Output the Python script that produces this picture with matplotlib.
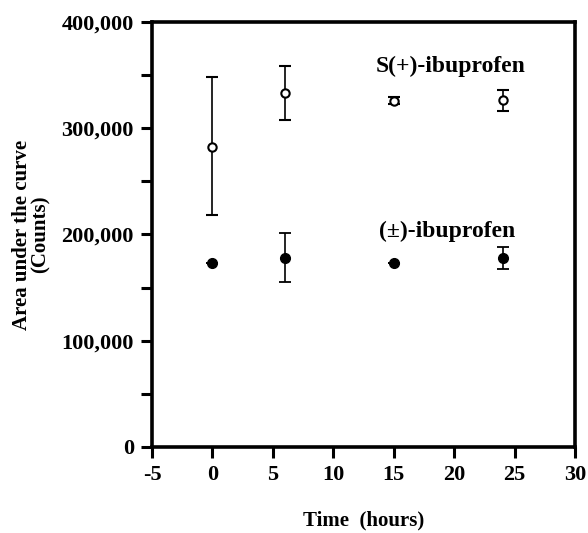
import matplotlib
matplotlib.use("Agg")
from matplotlib import pyplot as plt
from matplotlib.ticker import FuncFormatter, MultipleLocator

# sampling times (hours)
times = [0, 6, 15, 24]

# S(+)-ibuprofen: AUC and error bar ends
s_auc = [282600, 333000, 326000, 327000]
s_err_hi = [348000, 359000, 329000, 336000]
s_err_lo = [218000, 308000, 323000, 316500]

# racemic (+/-)-ibuprofen
r_auc = [173000, 178000, 173000, 178000]
r_err_hi = [173000, 201000, 173000, 188500]
r_err_lo = [173000, 155000, 173000, 167500]

x_ticks = [-5, 0, 5, 10, 15, 20, 25, 30]
y_ticks = [0, 100000, 200000, 300000, 400000]

FONT = "Liberation Serif"
plt.rcParams["axes.unicode_minus"] = False

fig = plt.figure(figsize=(5.88, 5.33), dpi=100)
ax = fig.add_axes([0.2585, 0.1614, 0.7195, 0.7973])


def errs(mid, lo, hi):
    return [[m - l for m, l in zip(mid, lo)], [h - m for m, h in zip(mid, hi)]]


ax.errorbar(times, s_auc, yerr=errs(s_auc, s_err_lo, s_err_hi), fmt="o",
            mfc="white", mec="black", mew=1.5, ms=6, color="black",
            ecolor="black", elinewidth=1.2, capsize=4, capthick=1.3)
ax.errorbar(times, r_auc, yerr=errs(r_auc, r_err_lo, r_err_hi), fmt="o",
            mfc="black", mec="black", ms=7, color="black",
            ecolor="black", elinewidth=1.2, capsize=4, capthick=1.3)

ax.set_xlim(-5, 30)
ax.set_ylim(0, 400000)
ax.set_xticks(x_ticks)
ax.set_yticks(y_ticks)
ax.yaxis.set_minor_locator(MultipleLocator(50000))
ax.yaxis.set_major_formatter(FuncFormatter(lambda v, p: f"{int(v):,}"))
ax.xaxis.set_major_formatter(FuncFormatter(lambda v, p: f"{int(v)}"))

for s in ax.spines.values():
    s.set_linewidth(2.6)

ax.tick_params(axis="both", which="both", direction="out", length=8, width=2.2,
               pad=5)
ax.tick_params(axis="x", which="minor", bottom=False)
for lab in ax.get_xticklabels() + ax.get_yticklabels():
    lab.set_fontfamily(FONT)
    lab.set_fontweight("bold")
    lab.set_fontsize(16)

ax.text(13.5, 353000, "S(+)-ibuprofen", family=FONT, fontsize=17,
        fontweight="bold", ha="left")
ax.text(13.8, 197500, "(\u00b1)-ibuprofen", family=FONT, fontsize=17,
        fontweight="bold", ha="left")

ax.set_xlabel("Time  (hours)", family=FONT, fontsize=15, fontweight="bold",
              labelpad=18)
ax.set_ylabel("Area under the curve\n(Counts)", family=FONT, fontsize=15,
              fontweight="bold", labelpad=8, linespacing=0.9)

fig.savefig("out.png", dpi=100)
